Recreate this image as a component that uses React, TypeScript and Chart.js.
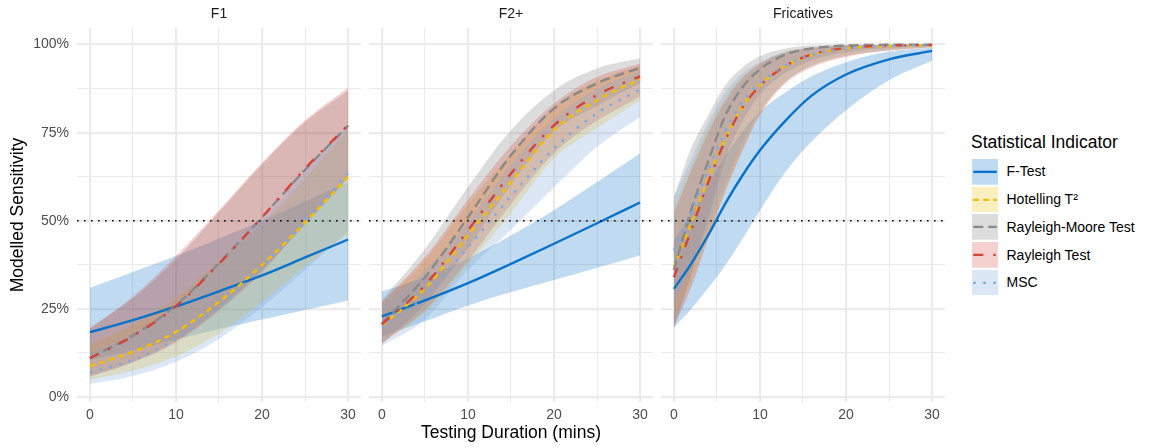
import React, { useEffect, useRef } from "react";
import { Chart, registerables } from "chart.js";

Chart.register(...registerables);

const FONT_FAMILY = "'Liberation Sans', Arial, Helvetica, sans-serif";
const TICK_COLOR = "#4d4d4d";
const STRIP_COLOR = "#1a1a1a";
const GRID_COLOR = "#ebebeb";

// ---- series / legend ----
const SERIES = ["F-Test", "Hotelling T²", "Rayleigh-Moore Test", "Rayleigh Test", "MSC"];
const LINE_COLORS = ["#0A72C8", "#F2BF00", "#898989", "#D4433C", "#7DA8DF"];
const FILL_COLORS = [
  "rgba(10,114,200,0.26)",
  "rgba(242,191,0,0.25)",
  "rgba(120,120,120,0.26)",
  "rgba(212,67,60,0.25)",
  "rgba(125,168,223,0.27)",
];
const DASHES = [[], [5.5, 4.5], [10, 5], [10, 10, 2.5, 10], [2.5, 7.5]];
const LEGEND_TITLE = "Statistical Indicator";

// ---- facets / axes ----
const FACETS = ["F1", "F2+", "Fricatives"];
const X_TITLE = "Testing Duration (mins)";
const Y_TITLE = "Modelled Sensitivity";
const X_TICKS = [0, 5, 10, 15, 20, 25, 30];
const X_LABELED = [0, 10, 20, 30];
const Y_TICKS = [0, 12.5, 25, 37.5, 50, 62.5, 75, 87.5, 100];
const Y_LABELED = [0, 25, 50, 75, 100];
const X_MIN = -1.5;
const X_MAX = 31.5;
const Y_MIN = -1.4;
const Y_MAX = 104.7;
const THRESHOLD = 50;

// ---- F1 ----
const F1_X = [0, 5, 10, 15, 20, 25, 30];
const F1_FTEST = [18.4, 21.8, 25.7, 30, 34.5, 39.6, 44.7];
const F1_FTEST_LO = [10.5, 13.3, 16.3, 19.3, 22, 24.7, 27.4];
const F1_FTEST_HI = [31, 35.5, 40, 45, 50, 55.5, 61];
const F1_HOT = [8.8, 12.8, 18.5, 27, 37.5, 49.5, 62.5];
const F1_HOT_LO = [5, 7.5, 11.5, 18, 27, 37, 46.5];
const F1_HOT_HI = [15, 20.5, 28, 38.5, 49, 62, 76];
const F1_RM = [11.1, 17.5, 26, 38, 51, 64.5, 77];
const F1_RM_LO = [6, 10, 16, 25, 36, 49, 62];
const F1_RM_HI = [19.5, 28, 39, 52.5, 66, 78, 87];
const F1_RAY = [11, 17.3, 25.8, 37.8, 51, 64.8, 77.2];
const F1_RAY_LO = [5.8, 9.8, 15.5, 24.5, 35.5, 49, 62];
const F1_RAY_HI = [19.5, 28.5, 40, 53, 66.5, 78.5, 87.8];
const F1_MSC = [7, 10.5, 16.5, 25.5, 37, 50, 63.5];
const F1_MSC_LO = [3.8, 6, 10, 16.5, 25.5, 36, 47];
const F1_MSC_HI = [12.5, 17.8, 26, 37.5, 50, 64, 77.5];

// ---- F2+ ----
const F2_X = [0, 5, 10, 15, 20, 25, 30];
const F2_FTEST = [22.9, 27.4, 32.3, 37.8, 43.5, 49.3, 55.2];
const F2_FTEST_LO = [17.2, 21.5, 26, 29.8, 33.2, 36.7, 40.2];
const F2_FTEST_HI = [30, 34, 39.3, 45.8, 53, 61, 69.1];
const F2_HOT = [20.3, 30.8, 45.9, 61, 75.7, 84.2, 90.2];
const F2_HOT_LO = [15.2, 23.9, 37.5, 52.2, 67.7, 76.3, 84.2];
const F2_HOT_HI = [26.5, 38.7, 54.7, 69.2, 82.3, 89.8, 94.1];
const F2_RM = [20.8, 34, 51, 68.6, 81.9, 89, 93.4];
const F2_RM_LO = [15, 26.5, 42.3, 60.3, 75.4, 82.6, 89.1];
const F2_RM_HI = [27.5, 42, 59.6, 75.7, 87, 93.2, 96.1];
const F2_RAY = [20.6, 31.7, 47.3, 63.4, 77.1, 85.7, 91];
const F2_RAY_LO = [15.4, 24.6, 38.7, 54.7, 69.2, 78.4, 85.3];
const F2_RAY_HI = [26.9, 39.7, 56, 71.3, 83.3, 90.8, 94.6];
const F2_MSC = [19.8, 28.5, 42.5, 57, 70.5, 80.5, 87.3];
const F2_MSC_LO = [14.5, 22, 36, 47.5, 59.5, 71, 79.5];
const F2_MSC_HI = [26.3, 36, 49.5, 66, 79, 87.5, 92.5];

// ---- Fricatives ----
const FR_X = [0, 2, 4, 6, 8, 10, 13, 16, 20, 25, 30];
const FR_FTEST = [30.7, 37.8, 46, 55, 63, 70, 78.5, 85.5, 91.5, 95.8, 98.2];
const FR_FTEST_LO = [19.8, 25, 31, 37.5, 45, 53, 64, 72.5, 81.4, 89.9, 95.5];
const FR_FTEST_HI = [44.5, 52, 60.5, 68.5, 75.5, 81, 86.5, 91, 95, 98, 99.1];
const FR_HOT = [36.9, 49, 62, 73.5, 82.5, 88.5, 94, 97, 98.9, 99.6, 99.85];
const FR_HOT_LO = [22, 32.5, 46, 59, 70.5, 80.5, 89.5, 94, 96.8, 98.4, 99.25];
const FR_HOT_HI = [54, 65.5, 76.5, 85, 91, 94.7, 97.9, 99.1, 99.7, 99.9, 99.97];
const FR_RM = [36, 53, 67, 80, 88, 93, 97.2, 98.9, 99.7, 99.94, 99.99];
const FR_RM_LO = [19.3, 34.8, 50.7, 67.7, 78.4, 86, 92, 95.5, 97.8, 99, 99.5];
const FR_RM_HI = [56.7, 70.5, 80, 88.5, 93.6, 96.7, 98.9, 99.7, 99.93, 99.98, 100];
const FR_RAY = [34, 47.3, 61, 73, 82.3, 88.3, 94, 97.2, 99, 99.7, 99.9];
const FR_RAY_LO = [20, 31, 45, 58.5, 70, 80, 89, 93.5, 96.5, 98.3, 99.2];
const FR_RAY_HI = [52, 64, 75, 84, 90.5, 94.5, 97.8, 99, 99.7, 99.9, 99.97];
const FR_MSC = [41.6, 52.5, 64.5, 75.5, 84, 89, 94.2, 97, 98.9, 99.6, 99.85];
const FR_MSC_LO = [27, 36.5, 48.5, 61, 72, 81, 89.5, 94, 96.8, 98.4, 99.25];
const FR_MSC_HI = [57, 67.5, 78, 86.5, 92, 95, 98, 99.1, 99.7, 99.9, 99.97];

const FACET_DATA = [
  {
    x: F1_X,
    mean: [F1_FTEST, F1_HOT, F1_RM, F1_RAY, F1_MSC],
    lo: [F1_FTEST_LO, F1_HOT_LO, F1_RM_LO, F1_RAY_LO, F1_MSC_LO],
    hi: [F1_FTEST_HI, F1_HOT_HI, F1_RM_HI, F1_RAY_HI, F1_MSC_HI],
  },
  {
    x: F2_X,
    mean: [F2_FTEST, F2_HOT, F2_RM, F2_RAY, F2_MSC],
    lo: [F2_FTEST_LO, F2_HOT_LO, F2_RM_LO, F2_RAY_LO, F2_MSC_LO],
    hi: [F2_FTEST_HI, F2_HOT_HI, F2_RM_HI, F2_RAY_HI, F2_MSC_HI],
  },
  {
    x: FR_X,
    mean: [FR_FTEST, FR_HOT, FR_RM, FR_RAY, FR_MSC],
    lo: [FR_FTEST_LO, FR_HOT_LO, FR_RM_LO, FR_RAY_LO, FR_MSC_LO],
    hi: [FR_FTEST_HI, FR_HOT_HI, FR_RM_HI, FR_RAY_HI, FR_MSC_HI],
  },
];

const zip = (xs: number[], ys: number[]) => xs.map((x, i) => ({ x, y: ys[i] }));

function buildConfig(facet: number): any {
  const f = FACET_DATA[facet];
  const datasets: any[] = [];
  const n = SERIES.length;
  for (let s = 0; s < n; s++) {
    datasets.push({
      label: SERIES[s] + " upper",
      data: zip(f.x, f.hi[s]),
      fill: "+1",
      backgroundColor: FILL_COLORS[s],
      borderColor: "rgba(0,0,0,0)",
      borderWidth: 0,
      pointRadius: 0,
      cubicInterpolationMode: "monotone",
      order: 20 + (n - 1 - s),
    });
    datasets.push({
      label: SERIES[s] + " lower",
      data: zip(f.x, f.lo[s]),
      fill: false,
      borderColor: "rgba(0,0,0,0)",
      borderWidth: 0,
      pointRadius: 0,
      cubicInterpolationMode: "monotone",
      order: 20 + (n - 1 - s),
    });
  }
  for (let s = 0; s < n; s++) {
    datasets.push({
      label: SERIES[s],
      data: zip(f.x, f.mean[s]),
      fill: false,
      borderColor: LINE_COLORS[s],
      borderWidth: 2.4,
      borderDash: DASHES[s],
      pointRadius: 0,
      cubicInterpolationMode: "monotone",
      order: n - s,
    });
  }
  datasets.push({
    label: "threshold",
    data: [
      { x: X_MIN, y: THRESHOLD },
      { x: X_MAX, y: THRESHOLD },
    ],
    fill: false,
    borderColor: "#000000",
    borderWidth: 1.6,
    borderDash: [1.6, 5.4],
    pointRadius: 0,
    order: 0,
  });

  const first = facet === 0;
  const middle = facet === 1;

  return {
    type: "line",
    data: { datasets },
    options: {
      responsive: false,
      animation: false,
      layout: { padding: 0 },
      events: [],
      plugins: {
        legend: { display: false },
        tooltip: { enabled: false },
        filler: { propagate: false, drawTime: "beforeDatasetsDraw" },
        title: {
          display: true,
          text: FACETS[facet],
          fullSize: false,
          color: STRIP_COLOR,
          font: { family: FONT_FAMILY, size: 14, weight: "normal" },
          padding: { top: 6, bottom: 5.2 },
        },
      },
      scales: {
        x: {
          type: "linear",
          min: X_MIN,
          max: X_MAX,
          afterBuildTicks: (scale: any) => {
            scale.ticks = X_TICKS.map((v) => ({ value: v }));
          },
          afterFit: (scale: any) => {
            scale.height = 46;
          },
          ticks: {
            autoSkip: false,
            maxRotation: 0,
            padding: 5,
            color: TICK_COLOR,
            font: { family: FONT_FAMILY, size: 14 },
            callback: (v: number) => (X_LABELED.includes(v) ? String(v) : ""),
          },
          grid: {
            color: GRID_COLOR,
            drawTicks: false,
            lineWidth: (ctx: any) => (ctx.tick && X_LABELED.includes(ctx.tick.value) ? 2.2 : 1.1),
          },
          border: { display: false },
          title: {
            display: middle,
            text: X_TITLE,
            color: "#000000",
            font: { family: FONT_FAMILY, size: 17.5 },
            padding: { top: 0, bottom: 4 },
          },
        },
        y: {
          type: "linear",
          min: Y_MIN,
          max: Y_MAX,
          afterBuildTicks: (scale: any) => {
            scale.ticks = Y_TICKS.map((v) => ({ value: v }));
          },
          afterFit: (scale: any) => {
            scale.width = first ? 69 : 0;
          },
          ticks: {
            display: first,
            padding: 8,
            color: TICK_COLOR,
            font: { family: FONT_FAMILY, size: 14 },
            callback: (v: number) => (Y_LABELED.includes(v) ? v + "%" : ""),
          },
          grid: {
            color: GRID_COLOR,
            drawTicks: false,
            lineWidth: (ctx: any) => (ctx.tick && Y_LABELED.includes(ctx.tick.value) ? 2.2 : 1.1),
          },
          border: { display: false },
          title: {
            display: first,
            text: Y_TITLE,
            color: "#000000",
            font: { family: FONT_FAMILY, size: 17.5 },
            padding: 0,
          },
        },
      },
    },
  };
}

function Panel({ facet, left, width }: { facet: number; left: number; width: number }) {
  const ref = useRef<HTMLCanvasElement>(null);
  useEffect(() => {
    if (!ref.current) return;
    const chart = new Chart(ref.current, buildConfig(facet));
    return () => chart.destroy();
  }, [facet]);
  return (
    <canvas
      ref={ref}
      width={width}
      height={448}
      style={{ position: "absolute", left, top: 0, width, height: 448 }}
    />
  );
}

const PANELS = [
  { left: 8, width: 353 },
  { left: 369, width: 284 },
  { left: 661, width: 284 },
];

function Legend() {
  const keyW = 26;
  const keyH = 25.7;
  const step = 27.7;
  const top0 = 159;
  return (
    <>
      <div
        style={{
          position: "absolute",
          left: 971,
          top: 132,
          fontFamily: FONT_FAMILY,
          fontSize: 17.5,
          lineHeight: "21px",
          color: "#000",
          whiteSpace: "nowrap",
        }}
      >
        {LEGEND_TITLE}
      </div>
      {SERIES.map((name, i) => {
        const top = top0 + i * step;
        return (
          <React.Fragment key={name}>
            <svg
              width={keyW}
              height={keyH}
              style={{ position: "absolute", left: 972, top }}
            >
              <rect x={0} y={0} width={keyW} height={keyH} fill={FILL_COLORS[i]} />
              <line
                x1={1.3}
                y1={keyH / 2}
                x2={keyW - 1.3}
                y2={keyH / 2}
                stroke={LINE_COLORS[i]}
                strokeWidth={2.4}
                strokeDasharray={DASHES[i].length ? DASHES[i].join(" ") : undefined}
              />
            </svg>
            <div
              style={{
                position: "absolute",
                left: 1006.5,
                top: top + keyH / 2 - 8.4,
                fontFamily: FONT_FAMILY,
                fontSize: 14,
                lineHeight: "17px",
                color: "#000",
                whiteSpace: "nowrap",
              }}
            >
              {name}
            </div>
          </React.Fragment>
        );
      })}
    </>
  );
}

export default function App() {
  useEffect(() => {
    document.body.style.overflow = "hidden";
  }, []);
  return (
    <div
      style={{
        position: "absolute",
        left: 0,
        top: 0,
        width: 1149,
        height: 448,
        background: "#ffffff",
        overflow: "hidden",
      }}
    >
      {PANELS.map((p, i) => (
        <Panel key={i} facet={i} left={p.left} width={p.width} />
      ))}
      <Legend />
    </div>
  );
}
